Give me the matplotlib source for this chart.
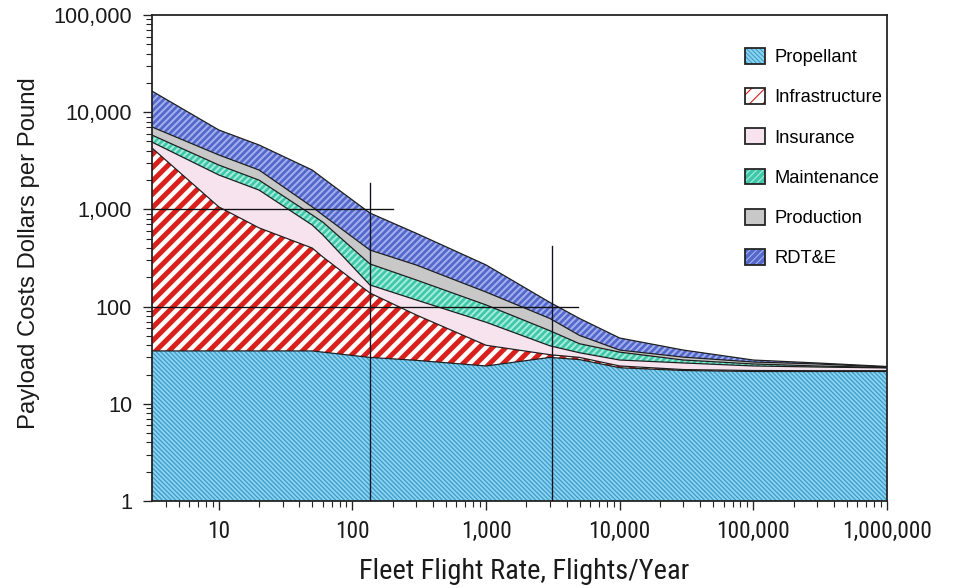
import numpy as np
import matplotlib
matplotlib.use("Agg")
import matplotlib.pyplot as plt
from matplotlib.patches import Patch
from matplotlib.ticker import FixedLocator, FixedFormatter, LogLocator, NullFormatter

# fleet flight rate (flights / year)
flights = [3.16, 10, 20, 50, 60, 135, 300, 1000, 3000, 5000, 1e4, 3e4, 1e5, 3e5, 1e6]

# cost contributions, dollars per pound of payload
propellant = [35, 35, 35, 35, 34, 30, 28, 24.5, 30, 28.5, 23.5, 22, 21.5, 21.5, 21.5]
infrastructure = [4250, 1025, 610, 365, 290, 108, 54, 15.5, 2.0, 1.5, 1.0, 0.5, 0.5, 0.4, 0.4]
insurance = [640, 1200, 935, 290, 222, 29, 35, 29, 7.5, 3.5, 3.7, 3.8, 2.5, 2.0, 1.5]
maintenance = [890, 600, 420, 185, 194, 108, 71, 35, 17, 8, 5.8, 1.9, 1.2, 0.6, 0.2]
production = [1230, 770, 540, 185, 135, 107, 80, 37, 19, 9, 1.7, 2.0, 1.2, 1.2, 0.3]
rdte = [9450, 2930, 2060, 1480, 1225, 536, 300, 127, 35, 25, 11.8, 5.5, 1.3, 0.6, 0.3]

categories = ["Propellant", "Infrastructure", "Insurance", "Maintenance", "Production", "RDT&E"]

x_ticks = [10, 100, 1000, 1e4, 1e5, 1e6]
x_tick_labels = ["10", "100", "1,000", "10,000", "100,000", "1,000,000"]
y_ticks = [1, 10, 100, 1000, 10000, 100000]
y_tick_labels = ["1", "10", "100", "1,000", "10,000", "100,000"]

# marked operating points: crosshair centre and reach
guide_x = [135, 3100]
guide_y = [1000, 100]
guide_h_end = [200, 4900]
guide_v_top = [1860, 420]

layers = [propellant, infrastructure, insurance, maintenance, production, rdte]

# face colour, hatch, hatch colour, hatch width per layer
styles = [
    ("#8fd3ef", "\\\\\\\\\\\\", "#3c9ecd", 1.2),
    ("#ffffff", "//", "#d8201c", 4.5),
    ("#f6e3ee", None, None, 1.0),
    ("#3ec8a9", "////", "#a6ecdb", 1.8),
    ("#c8c8c8", None, None, 1.0),
    ("#5468cc", "////", "#a3afec", 1.8),
]

sans = ["Liberation Sans", "DejaVu Sans"]
narrow = ["Roboto Condensed", "Liberation Sans Narrow", "Liberation Sans", "DejaVu Sans"]

fig = plt.figure(figsize=(12, 7.35), dpi=80)
ax = fig.add_axes([152 / 960, 1 - 501 / 588, 735 / 960, 486 / 588])

x = np.array(flights)
tops = np.cumsum(np.array(layers, dtype=float), axis=0)
bottoms = np.vstack([np.ones_like(x), tops[:-1]])

handles = []
for i, (face, hatch, hcolor, hlw) in enumerate(styles):
    with plt.rc_context({"hatch.linewidth": hlw}):
        poly = ax.fill_between(x, bottoms[i], tops[i], facecolor=face,
                               edgecolor=hcolor if hatch else "none",
                               hatch=hatch, linewidth=0, zorder=1)
        if hasattr(poly, "set_hatch_linewidth"):
            poly.set_hatch_linewidth(hlw)
        swatch = Patch(facecolor=face, edgecolor=hcolor if hatch else "none",
                       hatch=hatch, linewidth=0)
        if hasattr(swatch, "set_hatch_linewidth"):
            swatch.set_hatch_linewidth(hlw)
    frame = Patch(facecolor="none", edgecolor="#222222", linewidth=1.6)
    handles.append((swatch, frame))

for i in range(len(layers)):
    ax.plot(x, tops[i], color="#1e1e1e", lw=1.1, zorder=2)

for gx, gy, hx, vy in zip(guide_x, guide_y, guide_h_end, guide_v_top):
    ax.plot([flights[0], hx], [gy, gy], color="#111111", lw=1.2, zorder=3)
    ax.plot([gx, gx], [1, vy], color="#111122", lw=1.2, zorder=3)

ax.set_xscale("log")
ax.set_yscale("log")
ax.set_xlim(flights[0], 1e6)
ax.set_ylim(1, 1e5)

ax.xaxis.set_major_locator(FixedLocator(x_ticks))
ax.xaxis.set_major_formatter(FixedFormatter(x_tick_labels))
ax.xaxis.set_minor_locator(LogLocator(base=10, subs=np.arange(2, 10)))
ax.xaxis.set_minor_formatter(NullFormatter())
ax.yaxis.set_major_locator(FixedLocator(y_ticks))
ax.yaxis.set_major_formatter(FixedFormatter(y_tick_labels))
ax.yaxis.set_minor_locator(LogLocator(base=10, subs=np.arange(2, 10)))
ax.yaxis.set_minor_formatter(NullFormatter())

ax.tick_params(axis="both", which="major", direction="out", length=8, width=1.2, color="#222222")
ax.tick_params(axis="both", which="minor", direction="out", length=5, width=1.0, color="#222222")
ax.tick_params(axis="y", which="major", pad=10)
ax.tick_params(axis="x", which="major", pad=9)
for lab in ax.get_yticklabels():
    lab.set_fontfamily(sans)
    lab.set_fontsize(19.5)
    lab.set_color("#1a1a1a")
for lab in ax.get_xticklabels():
    lab.set_fontfamily(narrow)
    lab.set_fontsize(21)
    lab.set_color("#1a1a1a")

for side in ax.spines.values():
    side.set_linewidth(1.6)
    side.set_color("#222222")

ax.set_ylabel("Payload Costs Dollars per Pound", fontsize=21.5, family=sans, color="#1a1a1a")
ax.yaxis.set_label_coords(-0.152, 0.51)
ax.set_xlabel("Fleet Flight Rate, Flights/Year", fontsize=25.5, family=narrow, color="#1a1a1a")
ax.xaxis.set_label_coords(0.506, -0.118)

ax.legend(handles, categories, loc="upper left", bbox_to_anchor=(0.807, 0.932),
          frameon=False, borderpad=0, borderaxespad=0, handlelength=1.1,
          handleheight=0.95, handletextpad=0.5, labelspacing=1.2,
          prop={"family": sans, "size": 16.5})

fig.savefig("out.png", dpi=80)
